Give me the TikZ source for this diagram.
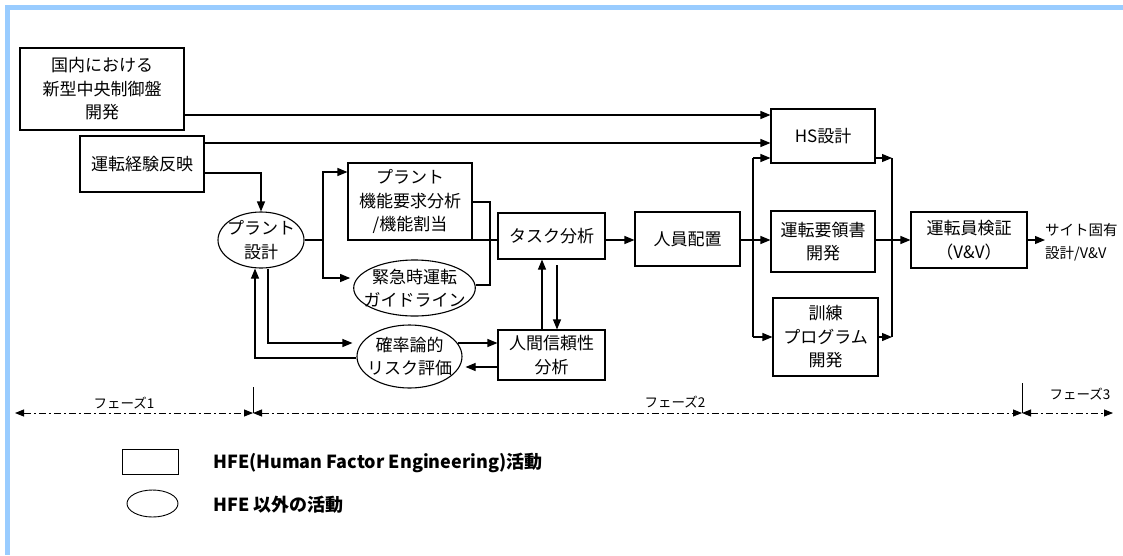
\documentclass[tikz,border=0pt]{standalone}
\usepackage{fontspec}
\newfontfamily\jp{Noto Sans CJK JP}
\usetikzlibrary{shapes.geometric,arrows.meta}
\definecolor{frameblue}{RGB}{153,204,255}
\begin{document}
\begin{tikzpicture}[x=1pt,y=-1pt,
  every node/.style={font=\jp\fontsize{17}{23.5}\selectfont},
  >={Triangle[length=10pt,width=8pt]},
  box/.style={draw,line width=1.1pt,inner sep=0pt,align=center},
  ell/.style={draw,ellipse,line width=1.1pt,inner xsep=-8pt,inner ysep=-5pt,align=center},
  ln/.style={line width=1.1pt},
  arr/.style={line width=1.1pt,->},
  phase/.style={line width=0.9pt,dash pattern=on 7pt off 3pt on 2pt off 3pt,>={Triangle[length=9pt,width=7pt]}},
  phlabel/.style={font=\jp\fontsize{13.5}{15}\selectfont,inner sep=0pt},
  legtext/.style={font=\jp\bfseries\fontsize{18}{20}\selectfont,anchor=west,inner sep=0pt}
]
\useasboundingbox (0,0) rectangle (1123,555);
\fill[frameblue] (5,5) rectangle (1123,10);
\fill[frameblue] (5,5) rectangle (10,555);

% helper coordinates
\coordinate (y115) at (0,115);
\coordinate (y143) at (0,143);
\coordinate (y158) at (0,158);
\coordinate (y172) at (0,172);
\coordinate (y173) at (0,173);
\coordinate (y202) at (0,202);
\coordinate (y240) at (0,240);
\coordinate (y265) at (0,265);
\coordinate (y278) at (0,278);
\coordinate (y285) at (0,285);
\coordinate (y337) at (0,337);
\coordinate (y343) at (0,343);
\coordinate (y358) at (0,358);
\coordinate (y367) at (0,367);
\coordinate (sp) at (323,240);
\coordinate (mx) at (490,0);
\coordinate (bx) at (753,0);
\coordinate (cx) at (892,0);
\coordinate (ux) at (542,0);
\coordinate (dx) at (557,0);
\coordinate (lx) at (268,0);
\coordinate (rx) at (255,0);

% nodes
\node[box,minimum width=164pt,minimum height=82pt] (dom) at (102,89) {国内における\\新型中央制御盤\\開発};
\node[box,minimum width=124pt,minimum height=56pt] (exp) at (142,164) {運転経験反映};
\node[ell,minimum width=86pt,minimum height=56pt] (pd) at (261,240) {プラント\\設計};
\node[box,minimum width=124pt,minimum height=77pt] (fr) at (410,201.5) {プラント\\機能要求分析\\/機能割当};
\node[ell,minimum width=115pt,minimum height=56pt] (eg) at (414.5,288) {緊急時運転\\ガイドライン};
\node[box,minimum width=107pt,minimum height=46pt] (ta) at (551.5,236) {タスク分析};
\node[box,minimum width=107pt,minimum height=50pt] (hr) at (551.5,355) {人間信頼性\\分析};
\node[ell,minimum width=105pt,minimum height=63pt] (pra) at (409.5,356.5) {確率論的\\リスク評価};
\node[box,minimum width=105pt,minimum height=54pt] (sa) at (687.5,239) {人員配置};
\node[box,minimum width=104pt,minimum height=54pt] (hs) at (823,136) {HS設計};
\node[box,minimum width=104pt,minimum height=61pt] (op) at (823,241.5) {運転要領書\\開発};
\node[box,minimum width=105pt,minimum height=78pt] (tr) at (825.5,337) {訓練\\プログラム\\開発};
\node[box,minimum width=116pt,minimum height=56pt] (vv) at (969,240) {運転員検証\\（V\&V）};
\node[align=left,anchor=west,inner sep=0pt,font=\jp\fontsize{14.5}{23}\selectfont] (site) at (1045,242) {サイト固有\\設計/V\&V};

% connectors
\draw[arr] (dom.east |- y115) -- (hs.west |- y115);
\draw[arr] (exp.east |- y143) -- (hs.west |- y143);
\draw[arr] (exp.east |- y173) -| (pd.north);
\draw[ln] (pd.east) -- (sp);
\draw[arr] (sp) |- (fr.west |- y172);
\draw[arr,shorten >=3pt] (sp) |- (eg.west |- y278);
\draw[ln] (fr.east |- y202) -| (mx |- y285) -- (eg.east |- y285);
\draw[ln] (fr.east |- y240) -- (ta.west |- y240);
\draw[arr] (ta.east |- y240) -- (sa.west |- y240);
\draw[ln] (sa.east |- y240) -- (bx |- y240);
\draw[arr] (bx |- y240) -- (op.west |- y240);
\draw[ln] (bx |- y158) -- (bx |- y337);
\draw[arr] (bx |- y158) -- (hs.west |- y158);
\draw[arr] (bx |- y337) -- (tr.west |- y337);
\draw[arr] (hs.east |- y158) -- (cx |- y158);
\draw[arr] (tr.east |- y337) -- (cx |- y337);
\draw[ln] (cx |- y158) -- (cx |- y337);
\draw[ln] (op.east |- y240) -- (cx |- y240);
\draw[arr] (cx |- y240) -- (vv.west |- y240);
\draw[arr] (vv.east) -- (site.west |- vv.east);
\draw[arr] (ux |- hr.north) -- (ux |- ta.south);
\draw[arr] (dx |- y265) -- (dx |- hr.north);
\draw[arr,shorten >=4pt] (pd.south -| lx) |- (pra.west |- y343);
\draw[arr] (pra.west |- y358) -| (pd.south -| rx);
\draw[arr,shorten <=-5pt] (pra.east |- y343) -- (hr.west |- y343);
\draw[arr,shorten >=3pt] (hr.west |- y367) -- (pra.east |- y367);

% phases
\coordinate (p0) at (15,413);
\coordinate (p1) at (253,413);
\coordinate (p2) at (1022,413);
\coordinate (p3) at (1113,413);
\coordinate (t1) at (253,387);
\coordinate (t2) at (1022,383);
\draw[phase,<->] (p0) -- (p1);
\draw[phase,<->] (p1) -- (p2);
\draw[phase,<->] (p2) -- (p3);
\draw[line width=0.9pt] (t1) -- (p1);
\draw[line width=0.9pt] (t2) -- (p2);
\node[phlabel] (ph1) at (124,403) {フェーズ1};
\node[phlabel] (ph2) at (675,402) {フェーズ2};
\node[phlabel] (ph3) at (1080,394) {フェーズ3};

% legend
\node[draw,line width=0.9pt,minimum width=56pt,minimum height=25pt,inner sep=0pt] (lg1) at (150,462) {};
\node[draw,ellipse,line width=0.9pt,minimum width=51pt,minimum height=27pt,inner sep=0pt] (lg2) at (152.5,503.5) {};
\node[legtext] (lt1) at (213,463) {HFE(Human Factor Engineering)活動};
\node[legtext] (lt2) at (213,505) {HFE 以外の活動};
\end{tikzpicture}
\end{document}
